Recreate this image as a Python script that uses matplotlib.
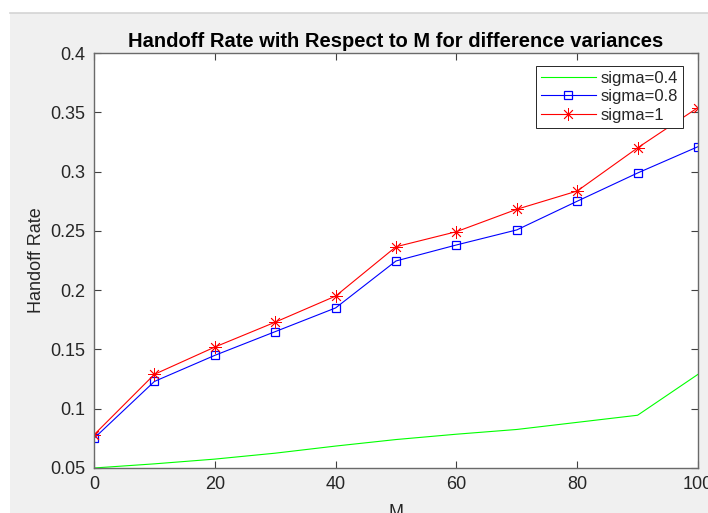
#!/usr/bin/env python3
"""Handoff rate versus M for three sigma values (MATLAB-style figure)."""

import matplotlib

matplotlib.use("Agg")
import matplotlib.pyplot as plt
from matplotlib.patches import Rectangle
from matplotlib.lines import Line2D
from matplotlib.ticker import FormatStrFormatter

M = [0, 10, 20, 30, 40, 50, 60, 70, 80, 90, 100]
sigma_04 = [0.050, 0.0535, 0.0575, 0.0625, 0.0685, 0.074, 0.0785, 0.0825, 0.0885, 0.0945, 0.129]
sigma_08 = [0.075, 0.123, 0.145, 0.165, 0.185, 0.2246, 0.2381, 0.2508, 0.275, 0.2988, 0.321]
sigma_1 = [0.078, 0.129, 0.152, 0.173, 0.195, 0.2366, 0.2493, 0.2682, 0.2836, 0.320, 0.354]

labels = ["sigma=0.4", "sigma=0.8", "sigma=1"]
x_ticks = [0, 20, 40, 60, 80, 100]
y_ticks = [0.05, 0.1, 0.15, 0.2, 0.25, 0.3, 0.35, 0.4]

plt.rcParams["font.family"] = ["Liberation Sans", "DejaVu Sans"]
text_color = "#262626"

W, H = 708, 513
fig = plt.figure(figsize=(W / 100, H / 100), dpi=100, facecolor="#f0f0f0")

# white strip at the top and left of the screenshot, plus the window line
fig.patches.append(Rectangle((0, 1 - 13 / H), 1, 13 / H, transform=fig.transFigure,
                             facecolor="white", edgecolor="none", zorder=-1))
fig.patches.append(Rectangle((0, 0), 10 / W, 1, transform=fig.transFigure,
                             facecolor="white", edgecolor="none", zorder=-1))
fig.lines.append(Line2D([10 / W, 1], [1 - 13 / H, 1 - 13 / H], transform=fig.transFigure,
                        color="#d4d4d4", linewidth=1.2))

ax = fig.add_axes([94 / W, 45 / H, 604 / W, 415 / H])

ax.plot(M, sigma_04, color=(0, 1, 0), linewidth=0.8, label=labels[0])
ax.plot(M, sigma_08, color="blue", linewidth=0.8, marker="s", markersize=6,
        markerfacecolor="none", markeredgecolor="blue", markeredgewidth=0.9, label=labels[1])
ax.plot(M, sigma_1, color="red", linewidth=0.8, marker=(8, 2, 0), markersize=9,
        markeredgecolor="red", markeredgewidth=0.6, label=labels[2])

ax.set_xlim(0, 100)
ax.set_ylim(0.05, 0.4)
ax.set_xticks(x_ticks)
ax.set_yticks(y_ticks)
ax.yaxis.set_major_formatter(FormatStrFormatter("%g"))
ax.tick_params(direction="in", length=5, width=0.8, color="#404040",
               top=True, right=True, labelsize=13, labelcolor=text_color, pad=6)
for spine in ax.spines.values():
    spine.set_color("#6a6a6a")
    spine.set_linewidth(1.0)

ax.set_title("Handoff Rate with Respect to M for difference variances",
             fontsize=14.5, fontweight="bold", color="black", pad=4)
ax.set_xlabel("M", fontsize=13, color=text_color, labelpad=8)
ax.set_ylabel("Handoff Rate", fontsize=13, color=text_color, labelpad=4)

leg = ax.legend(loc="upper right", bbox_to_anchor=(0.975, 0.969), borderaxespad=0,
                fontsize=12, handlelength=3.3, handletextpad=0.3, labelspacing=0.2,
                borderpad=0.3, fancybox=False, framealpha=1)
leg.get_frame().set_edgecolor("#262626")
leg.get_frame().set_linewidth(0.7)
for t in leg.get_texts():
    t.set_color(text_color)

fig.savefig("out.png", dpi=100, facecolor=fig.get_facecolor())
